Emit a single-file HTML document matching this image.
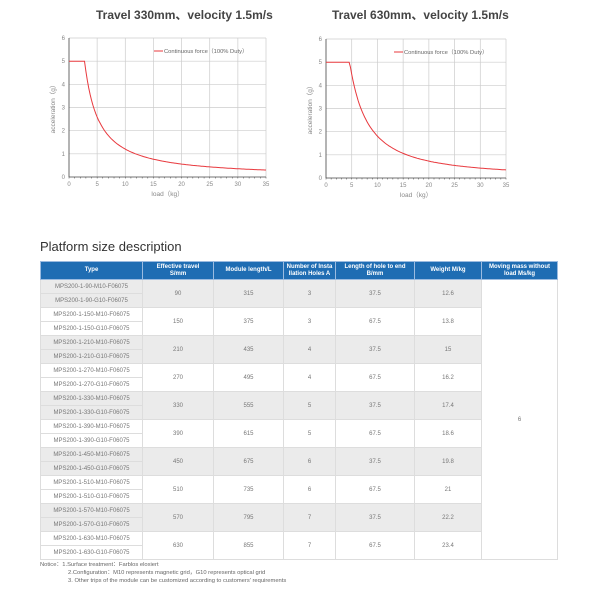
<!DOCTYPE html>
<html><head><meta charset="utf-8"><style>
body{margin:0;background:#fff;width:600px;height:600px;overflow:hidden;font-family:"Liberation Sans","Noto Sans CJK SC",sans-serif;position:relative}
.t{position:absolute;font-size:12px;color:#444;font-weight:bold}
table{position:absolute;left:40px;top:261px;border-collapse:collapse;table-layout:fixed;font-size:6px;color:#777}
th{background:#1f6db3;color:#fff;font-weight:bold;height:17px;border:1px solid #9bbbe0;line-height:7px;padding:0}
td{height:13px;border:1px solid #ddd;text-align:center;padding:0}
tr.g td{background:#ebebeb}
.n{position:absolute;left:40px;top:561px;font-size:5.8px;color:#666;line-height:8px}
</style></head><body>
<div class="t" style="left:96px;top:6px">Travel 330mm、velocity 1.5m/s</div>
<div class="t" style="left:332px;top:6px">Travel 630mm、velocity 1.5m/s</div>
<svg width="600" height="210" style="position:absolute;left:0;top:0" font-family="Liberation Sans" font-size="6" fill="#888">
<g id="c1"></g><g id="c2"></g>
</svg>
<div style="position:absolute;left:40px;top:239px;font-size:13px;color:#333">Platform size description</div>
<table>
<colgroup><col style="width:102px"><col style="width:71px"><col style="width:70px"><col style="width:52px"><col style="width:79px"><col style="width:67px"><col style="width:76px"></colgroup>
<tr><th>Type</th><th>Effective travel<br>S/mm</th><th>Module length/L</th><th>Number of Insta<br>llation Holes A</th><th>Length of hole to end<br>B/mm</th><th>Weight M/kg</th><th>Moving mass without<br>load Ms/kg</th></tr>
<tbody id="tb"></tbody>
</table>
<div class="n">Notice：1.Surface treatment：Farblos eloxiert<br><span style="padding-left:28px">2.Configuration：M10 represents magnetic grid，G10 represents optical grid</span><br><span style="padding-left:28px">3. Other trips of the module can be customized according to customers' requirements</span></div>
<script>
function chart(id,x0,x1,y6,y0,k,p){
 var g=document.getElementById(id),s='';
 function X(v){return x0+(x1-x0)*v/35}function Y(v){return y0-(y0-y6)*v/6}
 for(var i=1;i<=7;i++)s+='<line x1="'+X(i*5)+'" x2="'+X(i*5)+'" y1="'+y6+'" y2="'+y0+'" stroke="#ccc" stroke-width="0.7"/>';
 for(var j=1;j<=6;j++)s+='<line x1="'+x0+'" x2="'+x1+'" y1="'+Y(j)+'" y2="'+Y(j)+'" stroke="#ccc" stroke-width="0.7"/>';
 s+='<line x1="'+x0+'" x2="'+x0+'" y1="'+y6+'" y2="'+y0+'" stroke="#444" stroke-width="0.8"/><line x1="'+x0+'" x2="'+x1+'" y1="'+y0+'" y2="'+y0+'" stroke="#444" stroke-width="0.8"/>';
 for(var i=0;i<=35;i++)s+='<line x1="'+X(i)+'" x2="'+X(i)+'" y1="'+y0+'" y2="'+(y0+1.5)+'" stroke="#444" stroke-width="0.5"/>';
 for(var i=0;i<=7;i++)s+='<text x="'+X(i*5)+'" y="'+(y0+9)+'" text-anchor="middle">'+i*5+'</text>';
 for(var j=0;j<=6;j++)s+='<text x="'+(x0-4)+'" y="'+(Y(j)+2)+'" text-anchor="end">'+j+'</text>';
 var d='';for(var m=0;m<=35;m+=0.25){var a=m>0?Math.min(5,k/Math.pow(m,p)):5;d+=(d?'L':'M')+X(m).toFixed(1)+' '+Y(a).toFixed(1)}
 s+='<path d="'+d+'" fill="none" stroke="#e8383d" stroke-width="1"/>';
 s+='<text x="'+(x0+(x1-x0)/2)+'" y="'+(y0+19)+'" text-anchor="middle" font-size="6.5">load（kg）</text>';
 s+='<text transform="translate('+(x0-14)+','+((y0+y6)/2)+') rotate(-90)" text-anchor="middle" font-size="6.5">acceleration（g）</text>';
 s+='<line x1="'+(x1-112)+'" x2="'+(x1-103)+'" y1="'+(y6+13)+'" y2="'+(y6+13)+'" stroke="#e8383d"/><text x="'+(x1-102)+'" y="'+(y6+15)+'" fill="#666" font-size="5.8">Continuous force（100% Duty）</text>';
 g.innerHTML=s;}
chart('c1',69,266,38,177,15.4,1.107);
chart('c2',326,506,39,178,36.9,1.31);
var tr=[90,150,210,270,330,390,450,510,570,630],L=[315,375,435,495,555,615,675,735,795,855],A=[3,3,4,4,5,5,6,6,7,7],B=['37.5','67.5'],W=['12.6','13.8','15','16.2','17.4','18.6','19.8','21','22.2','23.4'],h='';
for(var i=0;i<10;i++){var c=i%2==0?' class="g"':'';
h+='<tr'+c+'><td>MPS200-1-'+tr[i]+'-M10-F06075</td><td rowspan="2">'+tr[i]+'</td><td rowspan="2">'+L[i]+'</td><td rowspan="2">'+A[i]+'</td><td rowspan="2">'+B[i%2]+'</td><td rowspan="2">'+W[i]+'</td>'+(i==0?'<td rowspan="20" style="background:#fff">6</td>':'')+'</tr>';
h+='<tr'+c+'><td>MPS200-1-'+tr[i]+'-G10-F06075</td></tr>';}
document.getElementById('tb').innerHTML=h;
</script>
</body></html>
